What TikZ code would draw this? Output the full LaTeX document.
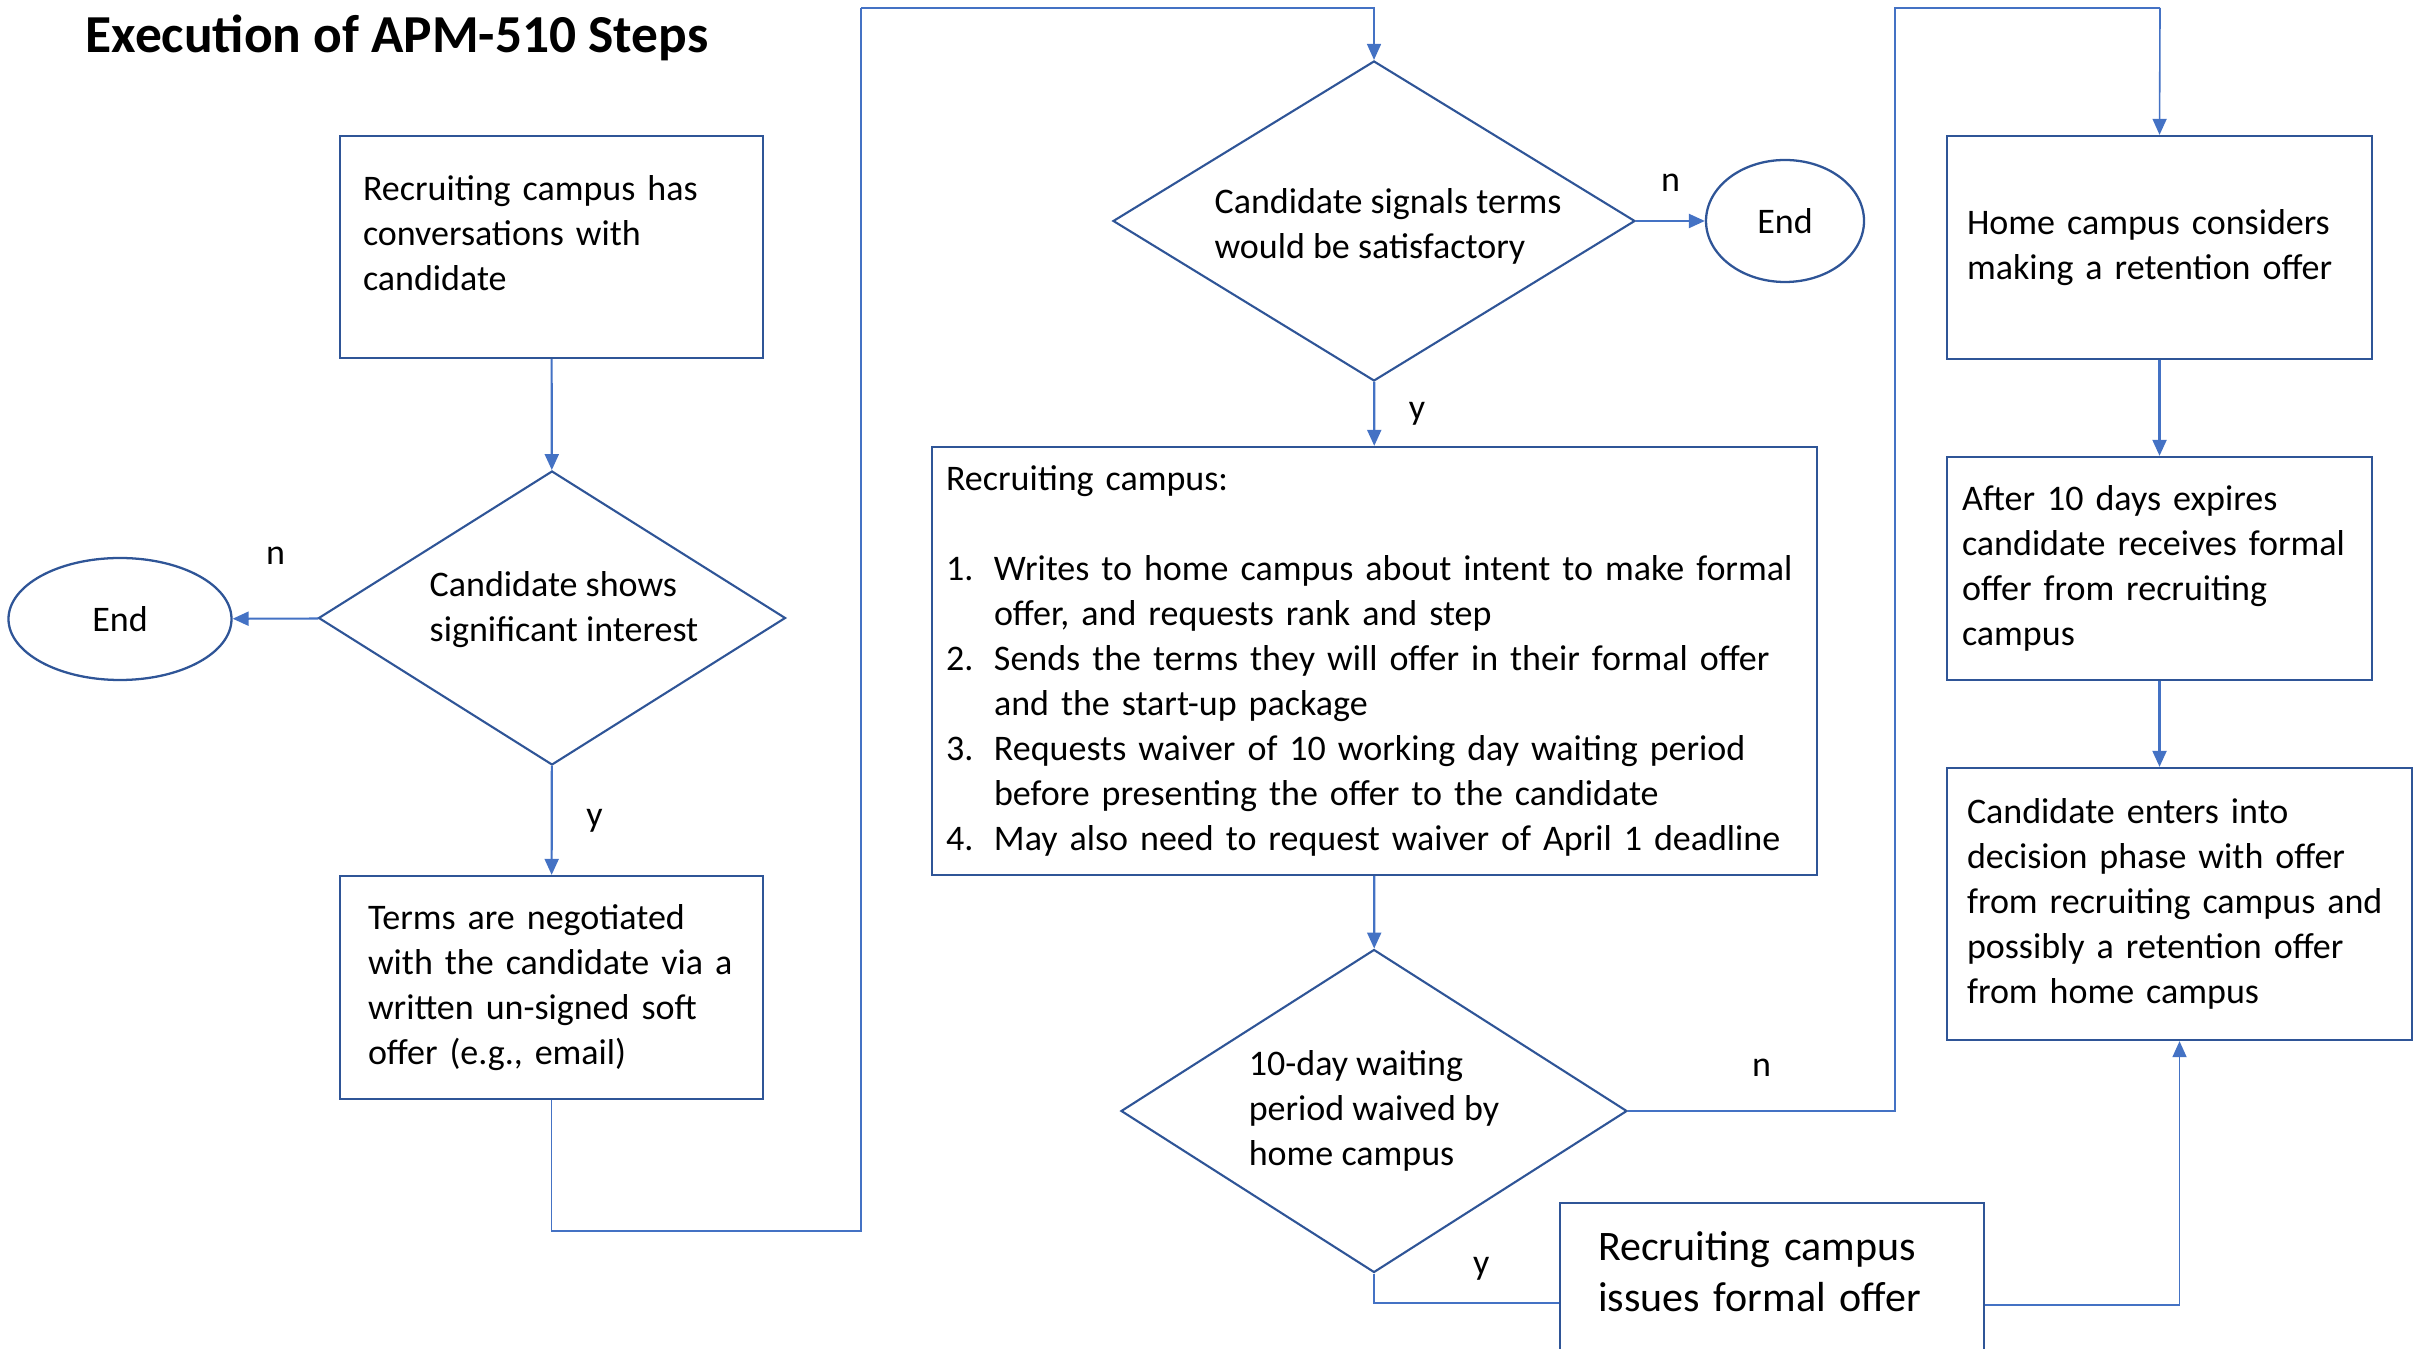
\documentclass[tikz,border=0pt]{standalone}
\usepackage{fontspec}
\setmainfont{Carlito}
\usepackage{xcolor}
\usepackage{tikz}
\usetikzlibrary{arrows.meta, shapes.geometric, positioning, calc}

\definecolor{edgeblue}{HTML}{2F5597}
\definecolor{lineblue}{HTML}{4472C4}
\newcommand{\stepnum}[1]{\makebox[0.48cm][l]{#1}}
\newcommand{\stepgap}{\hspace*{0.48cm}}

\begin{document}
\begin{tikzpicture}[
  txt/.style={font=\fontsize{10.24}{12.8}\selectfont},
  box/.style={txt, rectangle, draw=edgeblue, line width=0.65pt, fill=white,
              align=left, inner ysep=2pt},
  decide/.style={txt, diamond, draw=edgeblue, line width=0.6pt, align=left,
                 inner sep=0pt},
  stop/.style={txt, ellipse, draw=edgeblue, line width=0.65pt, inner sep=1pt},
  arr/.style={-{Triangle[length=0.16cm, width=0.14cm]}, line width=0.6pt, lineblue},
  route/.style={line width=0.45pt, lineblue},
  lbl/.style={txt, text=black, inner sep=1pt}
]
\useasboundingbox (0,0) rectangle (24.23,13.48);

\node[anchor=west, inner sep=0, font=\fontsize{15.2}{18}\selectfont\bfseries]
  (title) at (0.85, 13.10) {Execution of APM-510 Steps};

% left column
\node[box, text width=3.77cm, inner xsep=0.23cm, minimum height=2.22cm] (talks) at (5.515, 11.01)
  {Recruiting campus has\\conversations with\\candidate\\[-0.17cm]\mbox{}};
\node[decide, aspect=1.59, minimum width=4.67cm, minimum height=2.94cm] (interest) at (5.52, 7.30)
  {\hspace*{0.24cm}Candidate shows\\\hspace*{0.24cm}significant interest\\[-0.23cm]\mbox{}};
\node[stop, minimum width=2.23cm, minimum height=1.22cm] (endA) at (1.20, 7.29) {End};
\node[box, text width=3.67cm, inner xsep=0.28cm, minimum height=2.23cm] (terms) at (5.515, 3.605)
  {Terms are negotiated\\with the candidate via a\\written un-signed soft\\offer (e.g., email)};

% middle column
\node[decide, aspect=1.63, minimum width=5.22cm, minimum height=3.20cm] (signals) at (13.74, 11.27)
  {\hspace*{0.28cm}\raisebox{-0.15cm}[0pt][0pt]{\begin{tabular}{@{}l@{}}Candidate signals terms\\
   would be satisfactory\end{tabular}}};
\node[stop, minimum width=1.58cm, minimum height=1.22cm] (endB) at (17.85, 11.27) {End};
\node[box, text width=8.57cm, inner xsep=0.14cm, minimum height=4.28cm] (steps) at (13.745, 6.87)
  {Recruiting campus:\\[0.45cm]
   \stepnum{1.}Writes to home campus about intent to make formal\\
   \stepgap offer, and requests rank and step\\
   \stepnum{2.}Sends the terms they will offer in their formal offer\\
   \stepgap and the start-up package\\
   \stepnum{3.}Requests waiver of 10 working day waiting period\\
   \stepgap before presenting the offer to the candidate\\
   \stepnum{4.}May also need to request waiver of April 1 deadline};
\node[decide, aspect=1.57, minimum width=5.06cm, minimum height=3.23cm] (waived) at (13.74, 2.37)
  {10-day waiting\\period waived by\\home campus};
\node[box, font=\fontsize{11.95}{14.5}\selectfont, text width=3.48cm, inner xsep=0.38cm,
      minimum height=2.5cm] (formal) at (17.72, 0.20)
  {Recruiting campus\\issues formal offer\\[0.62cm]\mbox{}};

% right column
\node[box, text width=3.85cm, inner xsep=0.20cm, minimum height=2.23cm] (home) at (21.595, 11.005)
  {Home campus considers\\making a retention offer};
\node[box, text width=3.95cm, inner xsep=0.15cm, minimum height=2.23cm] (expires) at (21.595, 7.795)
  {After 10 days expires\\candidate receives formal\\offer from recruiting\\campus};
\node[box, text width=4.25cm, inner xsep=0.20cm, minimum height=2.72cm] (decision) at (21.795, 4.44)
  {Candidate enters into\\decision phase with offer\\from recruiting campus and\\possibly a retention offer\\from home campus};

% connectors
\draw[arr] (talks) -- (interest);
\draw[arr] (interest) -- node[lbl, above=0.5cm] (nA) {n} (endA);
\draw[arr] (interest) -- node[lbl, right=0.3cm] (yA) {y} (terms);
\draw[route] (terms.south) -- ++(0,-1.31) -| (8.61,13.40);
\draw[route, -{Triangle[length=0.16cm, width=0.14cm]}] (8.61,13.40) -| (signals.north);
\draw[arr] (signals) -- node[lbl, above=0.25cm] (nB) {n} (endB);
\draw[arr] (signals) -- node[lbl, right=0.3cm] (yB) {y} (steps);
\draw[arr] (steps) -- (waived);
\draw[route] (waived.east) -- node[lbl, above=0.3cm] (nC) {n} (18.95,2.37) |- (21.60,13.40);
\draw[route, -{Triangle[length=0.16cm, width=0.14cm]}] (21.60,13.40) -- (home.north);
\draw[route] (waived.south) |- node[lbl, pos=0.79, above=0.18cm] (yC) {y} (formal.west |- 0,0.45);
\draw[route, -{Triangle[length=0.16cm, width=0.14cm]}] (formal.east |- 0,0.43) -| (decision.south);
\draw[arr] (home) -- (expires);
\draw[arr] (expires.south) -- (expires.south |- decision.north);
\end{tikzpicture}
\end{document}
